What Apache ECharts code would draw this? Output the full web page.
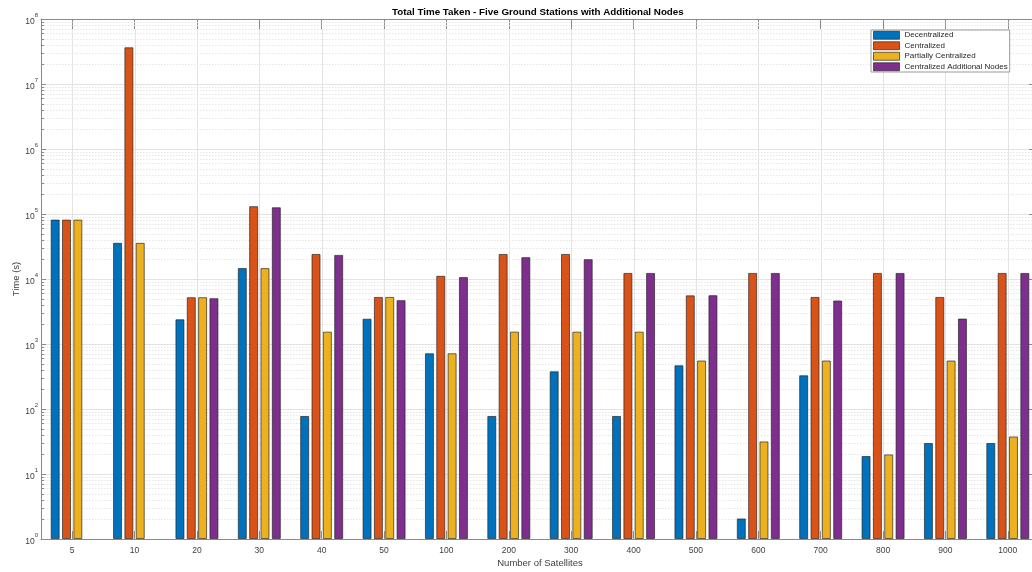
<!DOCTYPE html>
<html>
<head>
<meta charset="utf-8">
<style>
  html, body { margin: 0; padding: 0; background: #fff; }
  #chart { width: 1032px; height: 572px; }
</style>
<script src="https://cdn.jsdelivr.net/npm/echarts@6/dist/echarts.min.js"></script>
</head>
<body>
<div id="chart"></div>
<script>
// Number of satellites (x categories)
const categories = ['5', '10', '20', '30', '40', '50', '100', '200', '300', '400', '500', '600', '700', '800', '900', '1000'];

// Total time taken (s) per architecture
const decentralized = [82000, 36000, 2400, 14700, 78, 2450, 720, 78, 380, 78, 470, 2.07, 330, 18.9, 30, 30];
const centralized = [82000, 36700000, 5250, 132000, 24300, 5300, 11200, 24300, 24300, 12400, 5600, 12400, 5300, 12400, 5300, 12400];
const partiallyCentralized = [82000, 36000, 5250, 14700, 1550, 5300, 720, 1550, 1550, 1550, 557, 31.7, 557, 20, 557, 37.8];
const centralizedAdditional = [null, null, 5070, 127000, 23500, 4730, 10700, 21700, 20200, 12400, 5640, 12400, 4670, 12400, 2460, 12400];

const seriesNames = ['Decentralized', 'Centralized', 'Partially Centralized', 'Centralized Additional Nodes'];
const seriesColors = ['#0072BD', '#D95319', '#EDB120', '#7E2F8E'];

// Log axis structure: decades 10^0..10^8, minor lines at 2..9 within each decade
const yMin = 1, yMax = 1e8;
const minorMultipliers = [2, 3, 4, 5, 6, 7, 8, 9];
const minorValues = [];
for (let d = 0; d < 8; d++) {
  minorMultipliers.forEach(m => minorValues.push(m * Math.pow(10, d)));
}

const FONT = 'Liberation Sans, Arial, Helvetica, sans-serif';
const AXIS_GRAY = '#8a8a8a';
const LABEL_COLOR = '#404040';
const TOP_TICK = 10, BOTTOM_TICK = 8;

const chart = echarts.init(document.getElementById('chart'), null, { renderer: 'canvas' });

const barSeries = [decentralized, centralized, partiallyCentralized, centralizedAdditional].map((vals, i) => ({
  name: seriesNames[i],
  type: 'bar',
  data: vals,
  barWidth: 9,
  barGap: '26%',
  z: 3,
  itemStyle: {
    color: seriesColors[i],
    borderColor: 'rgba(30,30,30,0.65)',
    borderWidth: 1
  },
  emphasis: { disabled: true }
}));

// Dotted minor grid lines plus short minor ticks on both vertical axes
const minorGridSeries = {
  type: 'custom',
  silent: true,
  z: 1,
  clip: false,
  data: minorValues.map(v => [0, v]),
  renderItem: (params, api) => {
    const cs = params.coordSys;
    const y = Math.round(api.coord([0, api.value(1)])[1]) + 0.5;
    const x0 = cs.x, x1 = cs.x + cs.width;
    return {
      type: 'group',
      children: [
        { type: 'line', shape: { x1: x0 + 3, y1: y, x2: x1 - 5, y2: y },
          style: { stroke: '#e6e6e6', lineWidth: 1, lineDash: [1.5, 1.5] } },
        { type: 'line', shape: { x1: x0, y1: y, x2: x0 + 3, y2: y },
          style: { stroke: AXIS_GRAY, lineWidth: 1 } },
        { type: 'line', shape: { x1: x1 - 5, y1: y, x2: x1, y2: y },
          style: { stroke: AXIS_GRAY, lineWidth: 1 } }
      ]
    };
  }
};

// Vertical grid lines through each category centre (kept clear of the tick marks)
const verticalGridSeries = {
  type: 'custom',
  silent: true,
  z: 1,
  data: categories.map((c, i) => [i, yMin]),
  renderItem: (params, api) => {
    const cs = params.coordSys;
    const x = Math.round(api.coord([api.value(0), yMin])[0]) + 0.5;
    return {
      type: 'line',
      shape: { x1: x, y1: cs.y + TOP_TICK, x2: x, y2: cs.y + cs.height - BOTTOM_TICK },
      style: { stroke: '#e3e3e3', lineWidth: 1 }
    };
  }
};

const option = {
  animation: false,
  backgroundColor: '#ffffff',
  textStyle: { fontFamily: FONT },
  title: {
    text: 'Total Time Taken - Five Ground Stations with Additional Nodes',
    left: 392,
    top: 7,
    padding: 0,
    textStyle: { fontFamily: FONT, fontSize: 9.8, fontWeight: 'bold', color: '#000' }
  },
  legend: {
    data: seriesNames,
    orient: 'vertical',
    left: 871,
    top: 30,
    padding: [0, 2, 0, 2],
    itemGap: 0,
    itemWidth: 26,
    itemHeight: 8,
    icon: 'rect',
    backgroundColor: '#ffffff',
    borderColor: '#9a9a9a',
    borderWidth: 1,
    selectedMode: false,
    itemStyle: { borderColor: 'rgba(30,30,30,0.65)', borderWidth: 1 },
    textStyle: { fontFamily: FONT, fontSize: 8, lineHeight: 10.5, color: '#262626' }
  },
  grid: {
    left: 41,
    top: 19,
    width: 998,
    height: 520,
    containLabel: false,
    outerBoundsMode: 'none'
  },
  xAxis: [
    {
      type: 'category',
      data: categories,
      position: 'bottom',
      name: 'Number of Satellites',
      nameLocation: 'middle',
      nameGap: 19.5,
      nameMoveOverlap: false,
      nameTextStyle: { fontFamily: FONT, fontSize: 9.5, color: LABEL_COLOR },
      axisLine: { show: true, lineStyle: { color: AXIS_GRAY, width: 1 } },
      axisTick: { show: true, inside: true, length: BOTTOM_TICK, interval: 0, alignWithLabel: true, lineStyle: { color: AXIS_GRAY } },
      axisLabel: { interval: 0, margin: 7, fontFamily: FONT, fontSize: 8.5, color: LABEL_COLOR },
      splitLine: { show: false }
    },
    {
      type: 'category',
      data: categories,
      position: 'top',
      axisLine: { show: true, lineStyle: { color: AXIS_GRAY, width: 1 } },
      axisTick: { show: true, inside: true, length: TOP_TICK, interval: 0, alignWithLabel: true, lineStyle: { color: AXIS_GRAY } },
      axisLabel: { show: false, interval: 0 },
      splitLine: { show: false }
    }
  ],
  yAxis: [
    {
      type: 'log',
      logBase: 10,
      min: yMin,
      max: yMax,
      splitNumber: 8,
      position: 'left',
      name: 'Time (s)',
      nameLocation: 'middle',
      nameRotate: 90,
      nameGap: 20,
      nameMoveOverlap: false,
      nameTextStyle: { fontFamily: FONT, fontSize: 9.5, color: LABEL_COLOR },
      axisLine: { show: true, lineStyle: { color: AXIS_GRAY, width: 1 } },
      axisTick: { show: true, inside: true, length: 5, lineStyle: { color: AXIS_GRAY } },
      axisLabel: {
        margin: 3,
        fontFamily: FONT,
        color: LABEL_COLOR,
        formatter: v => '{b|10}{e|' + Math.round(Math.log10(v)) + '}',
        rich: {
          b: { fontFamily: FONT, fontSize: 8.5, color: LABEL_COLOR, lineHeight: 14, verticalAlign: 'bottom' },
          e: { fontFamily: FONT, fontSize: 6, color: LABEL_COLOR, verticalAlign: 'top' }
        }
      },
      splitLine: { show: true, lineStyle: { color: '#e3e3e3', width: 1 } }
    },
    {
      type: 'log',
      logBase: 10,
      min: yMin,
      max: yMax,
      splitNumber: 8,
      position: 'right',
      axisLine: { show: true, lineStyle: { color: AXIS_GRAY, width: 1 } },
      axisTick: { show: true, inside: true, length: 10, lineStyle: { color: AXIS_GRAY } },
      axisLabel: { show: false },
      splitLine: { show: false }
    }
  ],
  series: [verticalGridSeries, minorGridSeries].concat(barSeries)
};

chart.setOption(option);
</script>
</body>
</html>
